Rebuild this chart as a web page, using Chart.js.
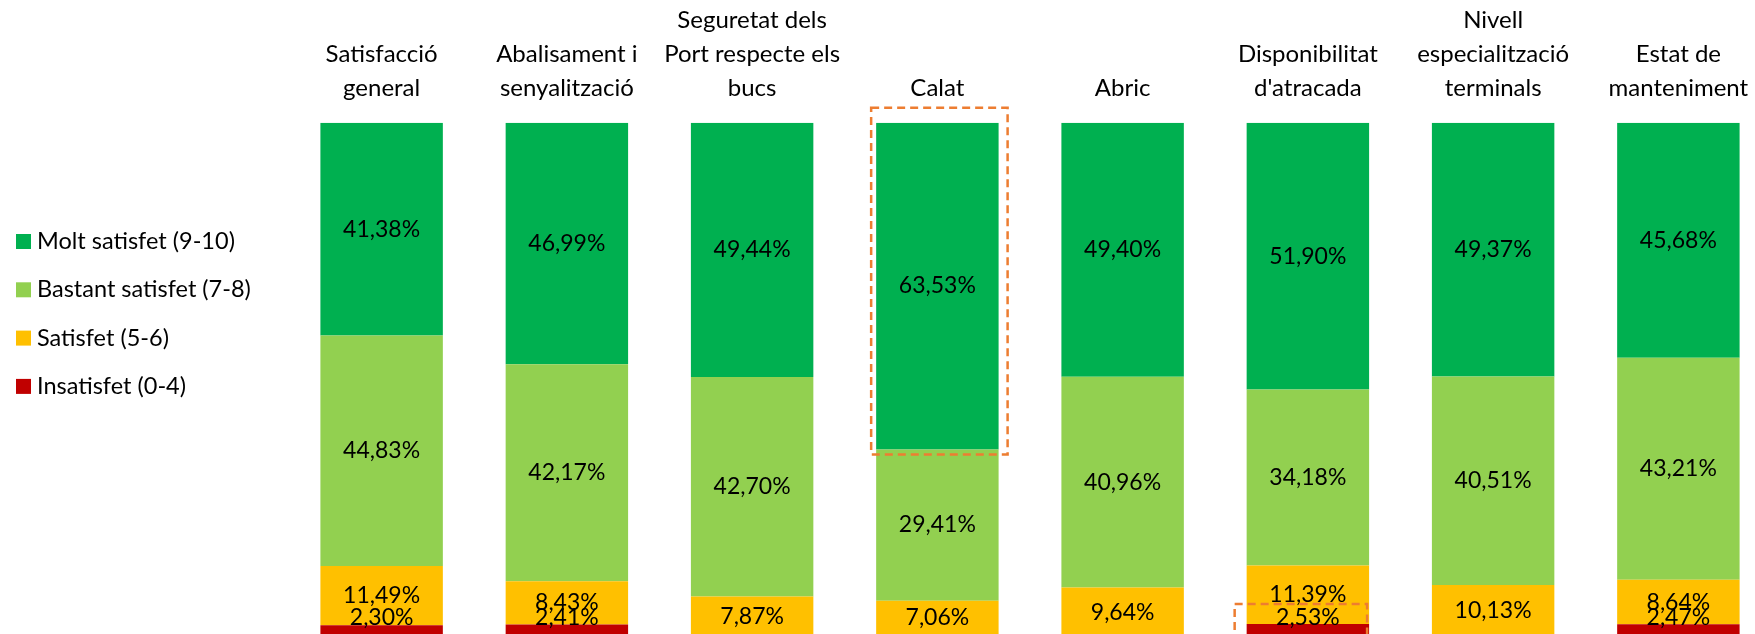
<!DOCTYPE html>
<html lang="ca">
<head>
  <meta charset="UTF-8" />
  <title>Satisfacció amb el Port</title>
  <script src="https://cdn.jsdelivr.net/npm/chart.js"></script>
  <style>
    html, body {
      margin: 0;
      padding: 0;
      background: #fff;
      overflow: hidden;
    }
    canvas { display: block; }
  </style>
</head>
<body>
  <canvas id="satChart" width="1771" height="640"></canvas>

  <script>
    const categories = [
      ['Satisfacció', 'general'],
      ['Abalisament i', 'senyalització'],
      ['Seguretat dels', 'Port respecte els', 'bucs'],
      ['Calat'],
      ['Abric'],
      ['Disponibilitat', "d'atracada"],
      ['Nivell', 'especialització', 'terminals'],
      ['Estat de', 'manteniment']
    ];

    const seriesNames = ['Insatisfet (0-4)', 'Satisfet (5-6)', 'Bastant satisfet (7-8)', 'Molt satisfet (9-10)'];

    const insatisfet = [2.30, 2.41, 0, 0, 0, 2.53, 0, 2.47];
    const satisfet = [11.49, 8.43, 7.87, 7.06, 9.64, 11.39, 10.13, 8.64];
    const bastant = [44.83, 42.17, 42.70, 29.41, 40.96, 34.18, 40.51, 43.21];
    const molt = [41.38, 46.99, 49.44, 63.53, 49.40, 51.90, 49.37, 45.68];

    const colors = ['#C00000', '#FFC000', '#92D050', '#00B050'];
    const FONT = 'Lato, "Open Sans", sans-serif';

    // value labels centred in each segment, kept inside the plot area
    const valueLabels = {
      id: 'valueLabels',
      afterDatasetsDraw(chart) {
        const ctx = chart.ctx;
        const limit = chart.chartArea.bottom - 19;
        ctx.save();
        ctx.font = '23px ' + FONT;
        ctx.fillStyle = '#000';
        ctx.textAlign = 'center';
        ctx.textBaseline = 'middle';
        chart.data.datasets.forEach((ds, i) => {
          chart.getDatasetMeta(i).data.forEach((bar, j) => {
            const v = ds.data[j];
            if (!v) return;
            const y = Math.min((bar.y + bar.base) / 2, limit);
            ctx.fillText(v.toFixed(2).replace('.', ',') + '%', bar.x, y);
          });
        });
        ctx.restore();
      }
    };

    // legend on the left, top series first
    const sideLegend = {
      id: 'sideLegend',
      afterDraw(chart) {
        const ctx = chart.ctx;
        const sets = chart.data.datasets.slice().reverse();
        ctx.save();
        ctx.font = '23.5px ' + FONT;
        ctx.textBaseline = 'middle';
        ctx.textAlign = 'left';
        sets.forEach((ds, k) => {
          const cy = 241.5 + k * 48.3;
          ctx.fillStyle = ds.backgroundColor;
          ctx.fillRect(16, cy - 7.5, 15, 15);
          ctx.fillStyle = '#000';
          ctx.fillText(ds.label, 37, cy);
        });
        ctx.restore();
      }
    };

    // orange dashed boxes around highlighted segments
    const highlights = [
      { series: 3, index: 3, left: 5, right: 9, top: 15, bottom: 5 },
      { series: 0, index: 5, left: 12, right: -2, top: 20, bottom: 10 }
    ];
    const dashedBoxes = {
      id: 'dashedBoxes',
      afterDraw(chart) {
        const ctx = chart.ctx;
        ctx.save();
        ctx.strokeStyle = '#ED7D31';
        ctx.lineWidth = 2.5;
        ctx.setLineDash([8, 5]);
        highlights.forEach(h => {
          const bar = chart.getDatasetMeta(h.series).data[h.index];
          const half = bar.width / 2;
          const x0 = bar.x - half - h.left;
          const x1 = bar.x + half + h.right;
          const y0 = Math.min(bar.y, bar.base) - h.top;
          const y1 = Math.max(bar.y, bar.base) + h.bottom;
          ctx.strokeRect(x0, y0, x1 - x0, y1 - y0);
        });
        ctx.restore();
      }
    };

    new Chart(document.getElementById('satChart'), {
      type: 'bar',
      data: {
        labels: categories,
        datasets: [insatisfet, satisfet, bastant, molt].map((vals, i) => ({
          label: seriesNames[i],
          data: vals,
          backgroundColor: colors[i],
          borderWidth: 0,
          categoryPercentage: 1,
          barPercentage: 0.661
        }))
      },
      options: {
        responsive: false,
        animation: false,
        devicePixelRatio: 1,
        layout: { padding: { left: 289, right: 0, top: 0, bottom: 3 } },
        plugins: {
          legend: { display: false },
          tooltip: { enabled: false }
        },
        scales: {
          x: {
            stacked: true,
            position: 'top',
            border: { display: false },
            grid: { display: false, drawTicks: false },
            ticks: {
              color: '#000',
              padding: 18,
              maxRotation: 0,
              autoSkip: false,
              font: { family: FONT, size: 24, lineHeight: 1.4 }
            },
            afterFit: scale => { scale.height = 122.7; }
          },
          y: {
            stacked: true,
            display: false,
            min: 0,
            max: 100
          }
        }
      },
      plugins: [valueLabels, sideLegend, dashedBoxes]
    });
  </script>
</body>
</html>
